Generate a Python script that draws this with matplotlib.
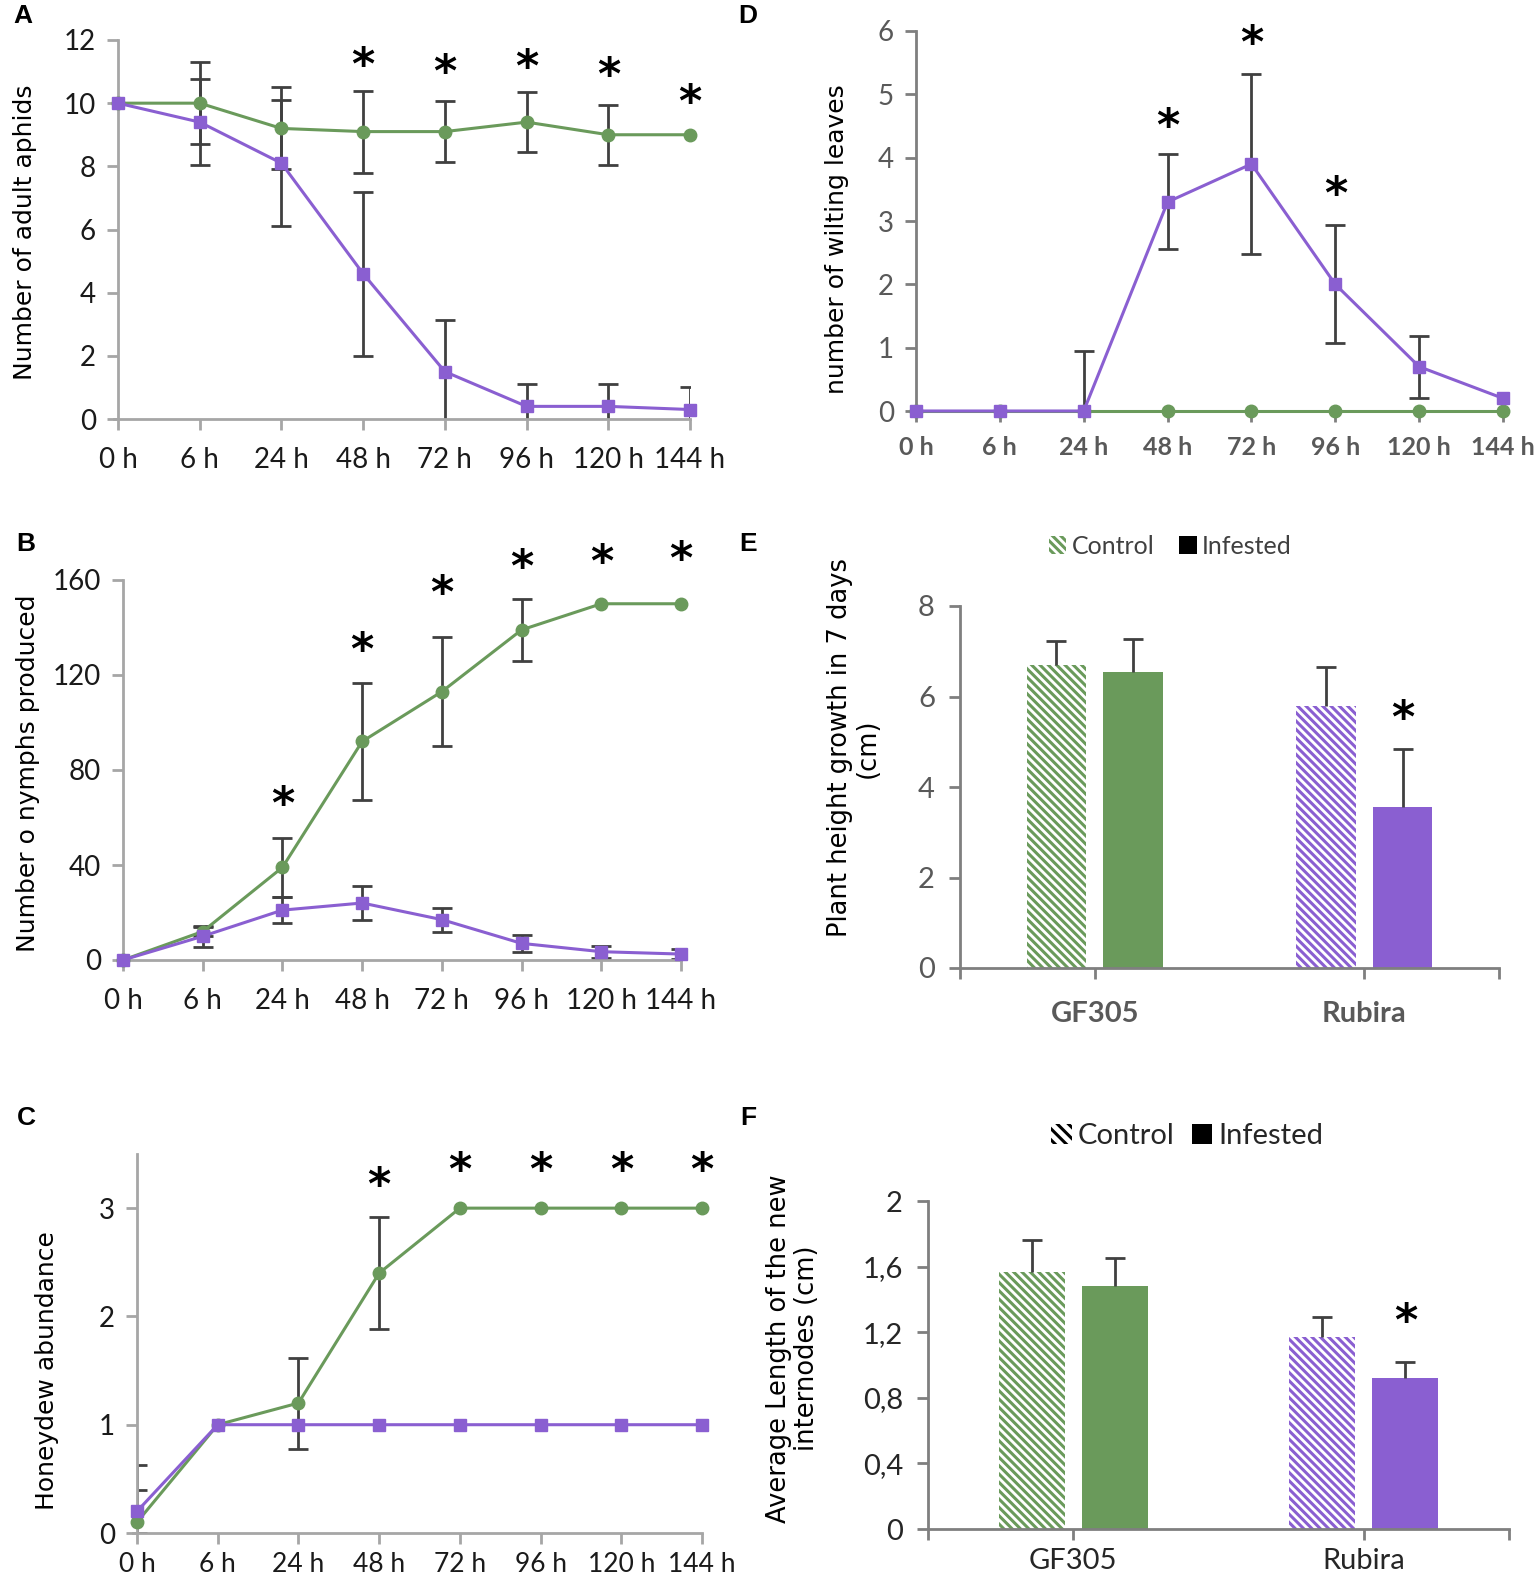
import matplotlib
matplotlib.use('Agg')
import matplotlib.pyplot as plt
from matplotlib.patches import Patch
import numpy as np

plt.rcParams['hatch.linewidth'] = 2.2

GREEN = '#6a9a5b'
PURPLE = '#8a5fd1'
ERR = '#404040'
NARROW = ['Lato', 'DejaVu Sans']

hours = ['0 h', '6 h', '24 h', '48 h', '72 h', '96 h', '120 h', '144 h']

# A - adult aphids
a_green = [10, 10, 9.2, 9.1, 9.1, 9.4, 9.0, 9.0]
a_green_err = [0, 1.3, 1.3, 1.3, 0.97, 0.95, 0.95, 0]
a_purple = [10, 9.4, 8.1, 4.6, 1.5, 0.4, 0.4, 0.3]
a_purple_err = [0, 1.35, 2.0, 2.6, 1.65, 0.7, 0.7, 0.7]
a_star_x = [3, 4, 5, 6, 7]
a_star_y = [11.17, 10.94, 11.1, 10.85, 10.0]

# B - nymphs produced
b_green = [0, 12, 39, 92, 113, 139, 150, 150]
b_green_err = [0, 2, 12.5, 24.5, 23, 13, 0, 0]
b_purple = [0, 10, 21, 24, 17, 7, 3.5, 2.5]
b_purple_err = [0, 4.5, 5.5, 7, 5, 3.5, 2.5, 2]
b_star_x = [2, 3, 4, 5, 6, 7]
b_star_y = [65, 130, 154, 165, 167, 168]

# C - honeydew abundance
c_green = [0.1, 1, 1.2, 2.4, 3, 3, 3, 3]
c_green_err = [0.53, 0, 0.42, 0.52, 0, 0, 0, 0]
c_purple = [0.2, 1, 1, 1, 1, 1, 1, 1]
c_purple_err = [0.2, 0, 0, 0, 0, 0, 0, 0]
c_star_x = [3, 4, 5, 6, 7]
c_star_y = [3.2, 3.34, 3.34, 3.34, 3.34]

# D - wilting leaves
d_green = [0, 0, 0, 0, 0, 0, 0, 0]
d_purple = [0, 0, 0, 3.3, 3.9, 2.0, 0.7, 0.2]
d_purple_err = [0, 0, 0.95, 0.75, 1.42, 0.93, 0.49, 0]
d_star_x = [3, 4, 5]
d_star_y = [4.47, 5.78, 3.41]

# E, F - bar panels
varieties = ['GF305', 'Rubira']
e_control = [6.7, 5.8]
e_control_err = [0.52, 0.85]
e_infested = [6.55, 3.55]
e_infested_err = [0.72, 1.28]
f_control = [1.57, 1.17]
f_control_err = [0.19, 0.12]
f_infested = [1.48, 0.92]
f_infested_err = [0.17, 0.10]

W, H = 1535, 1585
fig = plt.figure(figsize=(W / 100, H / 100), dpi=100)


def px_axes(left, right, bottom, top):
    return fig.add_axes([left / W, 1 - bottom / H, (right - left) / W, (bottom - top) / H])


def style_axes(ax, spine_col, tick_col, tick_size, xbold=False, xsize=None):
    for s in ['top', 'right']:
        ax.spines[s].set_visible(False)
    for s in ['left', 'bottom']:
        ax.spines[s].set_color(spine_col)
        ax.spines[s].set_linewidth(2)
    ax.tick_params(axis='both', colors=spine_col, width=2, length=8, labelcolor=tick_col,
                   labelsize=tick_size)
    if xsize:
        ax.tick_params(axis='x', labelsize=xsize)
    for lab in ax.get_xticklabels() + ax.get_yticklabels():
        lab.set_family(NARROW)
    if xbold:
        for lab in ax.get_xticklabels():
            lab.set_fontweight('bold')


def line_panel(ax, green, green_err, purple, purple_err, ylim, yticks, star_x, star_y,
               spine_col='#a6a6a6', tick_col='#1a1a1a', xbold=False, xpad=12, xsize=None):
    x = np.arange(len(hours))
    ax.plot(x, green, color=GREEN, lw=2.2, marker='o', ms=9, zorder=3, clip_on=False)
    ax.plot(x, purple, color=PURPLE, lw=2.2, marker='s', ms=8, zorder=4, clip_on=False)
    for vals, errs in [(green, green_err), (purple, purple_err)]:
        if errs is None:
            continue
        e = np.array(errs)
        m = e > 0
        ax.errorbar(x[m], np.array(vals)[m], yerr=e[m], fmt='none', ecolor=ERR,
                    elinewidth=2, capsize=7, capthick=2, zorder=2)
    for sx, sy in zip(star_x, star_y):
        ax.text(sx, sy, '*', ha='center', va='center', fontsize=32, fontweight='bold',
                clip_on=False)
    ax.set_xlim(0, len(hours) - 1)
    ax.set_ylim(*ylim)
    ax.set_yticks(yticks)
    ax.set_xticks(x)
    ax.set_xticklabels(hours)
    ax.tick_params(axis='x', pad=xpad)
    ax.tick_params(axis='y', pad=8)
    ax.spines['bottom'].set_bounds(-0.05, len(hours) - 1)
    style_axes(ax, spine_col, tick_col, 20, xbold, xsize)


def up_errorbar(ax, x, y, err):
    _, caps, _ = ax.errorbar(x, y, yerr=[np.zeros(len(x)), err], fmt='none', ecolor=ERR,
                             elinewidth=2, capsize=7, capthick=2, zorder=3)
    caps[0].set_visible(False)


def bar_panel(ax, control, control_err, infested, infested_err, ylim, yticks, ytick_labels,
              star_y, width, offset, spine_col, tick_col, xbold, xpad):
    x = np.arange(len(varieties))
    cols = [GREEN, PURPLE]
    for i in x:
        ax.bar(i - offset, control[i], width, color='white', edgecolor=cols[i], hatch='\\\\\\\\',
               linewidth=0, zorder=2)
        ax.bar(i + offset, infested[i], width, color=cols[i], linewidth=0, zorder=2)
    up_errorbar(ax, x - offset, control, control_err)
    up_errorbar(ax, x + offset, infested, infested_err)
    ax.text(1 + offset, star_y, '*', ha='center', va='center', fontsize=32, fontweight='bold')
    ax.set_xlim(-0.5, 1.5)
    ax.set_ylim(*ylim)
    ax.set_yticks(yticks)
    ax.set_yticklabels(ytick_labels)
    ax.set_xticks([-0.5, 0, 1, 1.5])
    ax.set_xticklabels(['', varieties[0], varieties[1], ''])
    ax.tick_params(axis='x', pad=xpad)
    ax.tick_params(axis='y', pad=10)
    style_axes(ax, spine_col, tick_col, 21, xbold)


# Panel A
axA = px_axes(118, 690, 419, 40)
line_panel(axA, a_green, a_green_err, a_purple, a_purple_err, (0, 12), range(0, 13, 2),
           a_star_x, a_star_y)
axA.set_ylabel('Number of adult aphids', fontsize=18, va='center')
axA.yaxis.set_label_coords(-0.162, 0.493)

# Panel B
axB = px_axes(123, 681, 960, 580)
line_panel(axB, b_green, b_green_err, b_purple, b_purple_err, (0, 160), range(0, 161, 40),
           b_star_x, b_star_y)
axB.set_ylabel('Number o nymphs produced', fontsize=18, va='center')
axB.yaxis.set_label_coords(-0.170, 0.492)

# Panel C
axC = px_axes(137, 702, 1533, 1154)
line_panel(axC, c_green, c_green_err, c_purple, c_purple_err, (0, 3.5), range(0, 4),
           c_star_x, c_star_y, xpad=6, xsize=19)
axC.set_ylabel('Honeydew abundance', fontsize=18, va='center')
axC.yaxis.set_label_coords(-0.159, 0.428)

# Panel D
axD = px_axes(916, 1503, 411, 31)
line_panel(axD, d_green, None, d_purple, d_purple_err, (0, 6), range(0, 7),
           d_star_x, d_star_y, spine_col='#7f7f7f', tick_col='#595959', xbold=True,
           xpad=10, xsize=18)
axD.set_ylabel('number of wilting leaves', fontsize=18, va='center')
axD.yaxis.set_label_coords(-0.134, 0.452)

# Panel E
axE = px_axes(960, 1499, 968, 606)
bar_panel(axE, e_control, e_control_err, e_infested, e_infested_err, (0, 8), range(0, 9, 2),
          [str(v) for v in range(0, 9, 2)], 5.5, 0.22, 0.142, '#7f7f7f', '#595959', True, 16)
axE.set_ylabel('Plant height growth in 7 days\n(cm)', fontsize=18.5, va='center',
               linespacing=1.1)
axE.yaxis.set_label_coords(-0.197, 0.608)
axE.legend(handles=[Patch(facecolor='white', edgecolor=GREEN, hatch='\\\\\\\\', lw=0, label='Control'),
                    Patch(facecolor='black', label='Infested')],
           loc='center', bbox_to_anchor=(0.39, 1.165), ncol=2, frameon=False,
           prop={'family': NARROW, 'size': 18}, labelcolor='#404040',
           handlelength=0.7, handleheight=0.7, handletextpad=0.2, columnspacing=1.0)

# Panel F
f_ticks = [0, 0.4, 0.8, 1.2, 1.6, 2.0]
axF = px_axes(928, 1509, 1529, 1201)
bar_panel(axF, f_control, f_control_err, f_infested, f_infested_err, (0, 2), f_ticks,
          ['0', '0,4', '0,8', '1,2', '1,6', '2'], 1.26, 0.226, 0.143, '#7f7f7f', '#262626',
          False, 6)
axF.set_ylabel('Average Length of the new\ninternodes (cm)', fontsize=18.5, va='center',
               linespacing=1.1)
axF.yaxis.set_label_coords(-0.232, 0.55)
axF.legend(handles=[Patch(facecolor='white', edgecolor='black', hatch='\\\\\\', lw=0, label='Control'),
                    Patch(facecolor='black', label='Infested')],
           loc='center', bbox_to_anchor=(0.446, 1.197), ncol=2, frameon=False,
           prop={'family': NARROW, 'size': 21}, labelcolor='#262626',
           handlelength=0.7, handleheight=0.7, handletextpad=0.2, columnspacing=0.6)

# panel letters
for letter, (px, py) in {'A': (23, 16), 'D': (748, 16), 'B': (26, 544), 'E': (748, 544),
                         'C': (26, 1118), 'F': (748, 1118)}.items():
    fig.text(px / W, 1 - py / H, letter, fontsize=19, fontweight='bold',
             family=['Liberation Sans', 'DejaVu Sans'], ha='center', va='center')

fig.savefig('out.png', dpi=100)
